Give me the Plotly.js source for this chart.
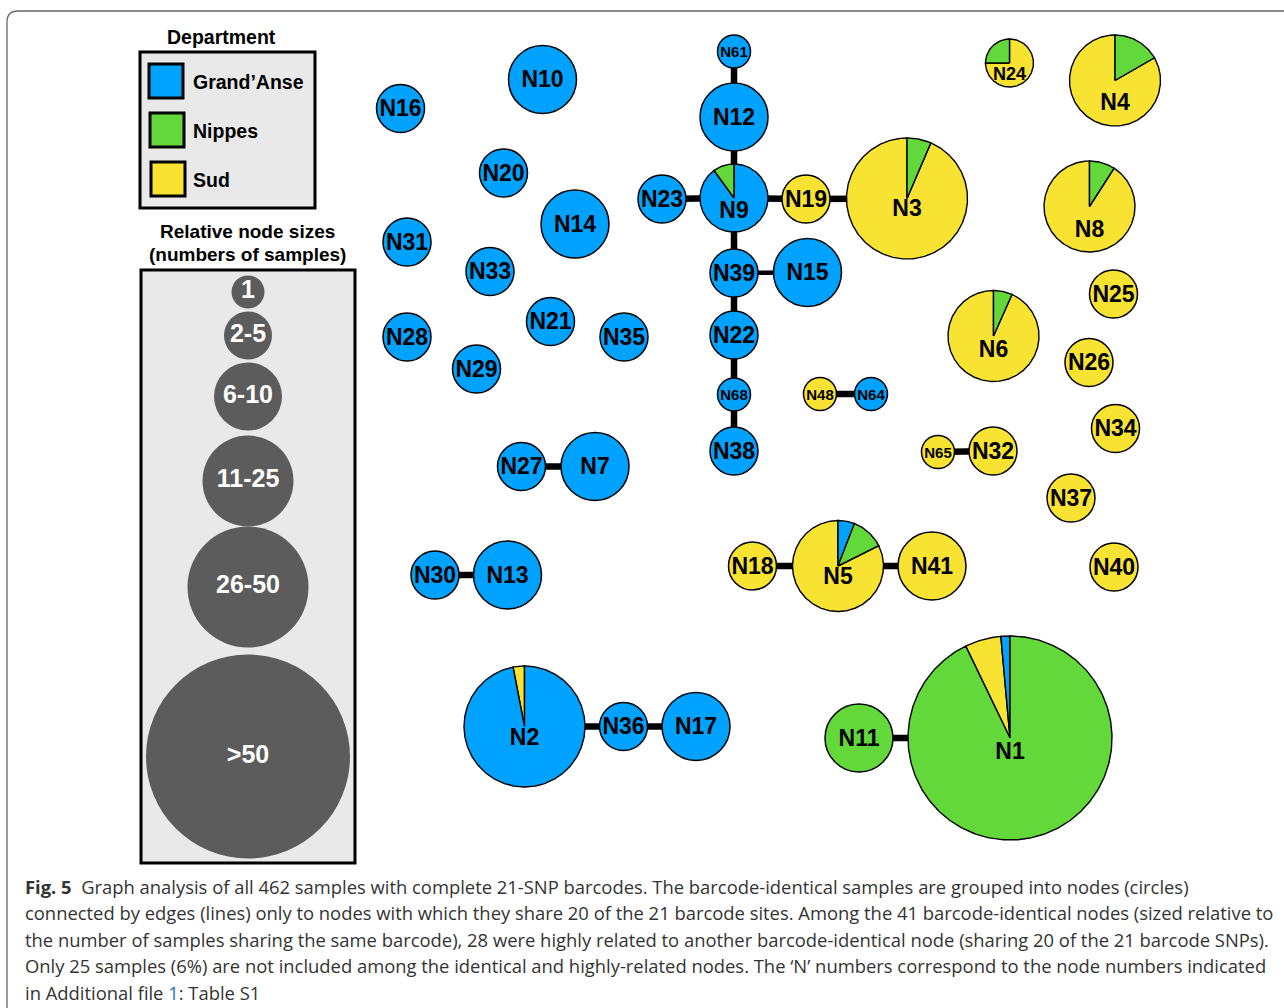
<!DOCTYPE html>
<html><head><meta charset="utf-8">
<script src="https://cdn.plot.ly/plotly-3.0.1.min.js"></script>
<style>html,body{margin:0;padding:0;background:#fff}</style>
</head><body><div id="chart" style="width:1284px;height:1008px"></div>
<script>
// ---------- DATA ----------
const nodeIds   = ['N1','N2','N3','N4','N5','N6','N7','N8','N9','N10','N11','N12','N13','N14','N15','N16','N17','N18','N19','N20','N21','N22','N23','N24','N25','N26','N27','N28','N29','N30','N31','N32','N33','N34','N35','N36','N37','N38','N39','N40','N41','N48','N61','N64','N65','N68'];
// samples per department in each node
const grandAnse = [1,32,0,0,1,0,10,0,9,9,0,8,8,7,7,5,6,0,0,5,4,4,4,0,0,0,3,3,3,3,3,0,3,0,3,3,0,2,2,0,0,0,1,1,0,1];
const nippes    = [65,0,2,3,2,1,0,1,1,0,9,0,0,0,0,0,0,0,0,0,0,0,0,1,0,0,0,0,0,0,0,0,0,0,0,0,0,0,0,0,0,0,0,0,0,0];
const sud       = [4,1,29,15,14,14,0,10,0,0,0,0,0,0,0,0,0,5,5,0,0,0,0,3,4,4,0,0,0,0,0,3,0,3,0,0,2,0,0,2,6,1,0,0,1,0];
// order of the pie slices, clockwise from 12 o'clock (G = Grand'Anse, N = Nippes, S = Sud)
const sliceOrder = ['NSG','GS','NS','NS','GNS','NS','G','NS','GN','G','N','G','G','G','G','G','G','S','S','G','G','G','G','SN','S','S','G','G','G','G','G','S','G','S','G','G','S','G','G','S','S','S','G','G','S','G'];
// edges: nodes sharing 20 of the 21 barcode sites
const edgeFrom = ['N61','N12','N23','N9','N19','N9','N39','N39','N22','N68','N48','N65','N18','N5','N27','N30','N2','N36','N11'];
const edgeTo   = ['N12','N9','N9','N19','N3','N39','N15','N22','N68','N38','N64','N32','N5','N41','N7','N13','N36','N17','N1'];
const deptNames = ['Grand’Anse','Nippes','Sud'];
const sizeClasses = ['1','2-5','6-10','11-25','26-50','>50'];
const sizeClassMax = [1,5,10,25,50,Infinity];

// ---------- LAYOUT (network placement, pixel space) ----------
const nodeX = [1010,524.5,907,1115,838,993.5,595,1089.5,734,542.5,859,734,507.5,575,807.5,400.5,696,752.5,806,503.5,550.5,734,662,1009.5,1113.5,1089,521.5,407,476.5,435,407,993,490,1115.5,624,623.5,1071,734,734,1114,932,820,734,871,938,734];
const nodeY = [738,726.5,198.5,80.5,566,336,466.5,206.5,198,79.5,738,117,575,224,272.5,108.5,726.5,566,199,173,321.5,335,199,63,294,362.5,466.5,337,369,575,242,451,271.5,428.5,337,726.5,498,451,273,567,566,394,51.5,394,452,394.5];
const labelShift = {N1:13,N2:10.5,N3:10,N4:22,N5:10,N6:13,N8:23,N9:12,N24:10};
const edgeWidthOf = {'N39-N15':4.5};

// ---------- STYLE ----------
const deptColor = {G:'#00a2ff', N:'#62d83a', S:'#f8e232'};
const classRadius = [16.5,24,34,45.5,60.5,102];
const legendCircleY = [292,335.5,396.5,481,587,756.5];
const FONT = '"Liberation Sans", Arial, Helvetica, sans-serif';

function sizeClass(n){ for(let i=0;i<sizeClassMax.length;i++){ if(n<=sizeClassMax[i]) return i; } return sizeClassMax.length-1; }
const idx = {}; nodeIds.forEach((id,i)=>idx[id]=i);
const counts = nodeIds.map((_,i)=>({G:grandAnse[i],N:nippes[i],S:sud[i]}));
const totals = counts.map(c=>c.G+c.N+c.S);
const radius = totals.map(t=>classRadius[sizeClass(t)]);
const isPie = sliceOrder.map(o=>o.length>1);

const traces = [];
// edges
const edgeGroups = {};
edgeFrom.forEach((a,k)=>{
  const b = edgeTo[k];
  const w = edgeWidthOf[a+'-'+b] || 6.5;
  if(!edgeGroups[w]) edgeGroups[w]={x:[],y:[]};
  edgeGroups[w].x.push(nodeX[idx[a]], nodeX[idx[b]], null);
  edgeGroups[w].y.push(nodeY[idx[a]], nodeY[idx[b]], null);
});
Object.keys(edgeGroups).forEach(w=>{
  traces.push({type:'scatter',mode:'lines',x:edgeGroups[w].x,y:edgeGroups[w].y,
    line:{color:'#000',width:+w},hoverinfo:'skip',showlegend:false});
});
// single-department nodes as circles
const sx=[],sy=[],ss=[],sc=[];
nodeIds.forEach((id,i)=>{ if(!isPie[i]){ sx.push(nodeX[i]); sy.push(nodeY[i]); ss.push(2*radius[i]); sc.push(deptColor[sliceOrder[i]]); }});
traces.push({type:'scatter',mode:'markers',x:sx,y:sy,marker:{size:ss,color:sc,line:{color:'#000',width:1.5},opacity:1},hoverinfo:'skip',showlegend:false});
// pie nodes as wedge polygons
const wedge = {G:{x:[],y:[]},N:{x:[],y:[]},S:{x:[],y:[]}};
nodeIds.forEach((id,i)=>{
  if(!isPie[i]) return;
  const cx=nodeX[i], cy=nodeY[i], r=radius[i], tot=totals[i];
  let a0=0;
  for(const d of sliceOrder[i]){
    const a1 = a0 + counts[i][d]/tot*2*Math.PI;
    const W = wedge[d];
    W.x.push(cx); W.y.push(cy);
    const steps = Math.max(2, Math.ceil((a1-a0)/(Math.PI/180)));
    for(let s=0;s<=steps;s++){ const a=a0+(a1-a0)*s/steps; W.x.push(cx+r*Math.sin(a)); W.y.push(cy-r*Math.cos(a)); }
    W.x.push(cx, null); W.y.push(cy, null);
    a0=a1;
  }
});
['S','G','N'].forEach(d=>{
  traces.push({type:'scatter',mode:'lines',x:wedge[d].x,y:wedge[d].y,fill:'toself',fillcolor:deptColor[d],
    line:{color:'#000',width:1.4},hoverinfo:'skip',showlegend:false,connectgaps:false});
});
// node labels
const lx=[],ly=[],lt=[],lf=[];
nodeIds.forEach((id,i)=>{
  lx.push(nodeX[i]); ly.push(nodeY[i]+2+(labelShift[id]||0)); lt.push(id);
  const c=sizeClass(totals[i]);
  lf.push(c===0?15:(isPie[i]&&c===1?18:23));
});
traces.push({type:'scatter',mode:'text',x:lx,y:ly,text:lt,textposition:'middle center',
  textfont:{family:FONT,size:lf,color:'#000',weight:700},hoverinfo:'skip',showlegend:false,cliponaxis:false});
// size legend circles
traces.push({type:'scatter',mode:'markers+text',x:sizeClasses.map(()=>248),y:legendCircleY,
  marker:{size:classRadius.map(r=>2*r),color:'#5c5c5c',opacity:1,line:{width:0}},
  text:sizeClasses,textposition:'middle center',textfont:{family:FONT,size:25,color:'#fff',weight:700},
  hoverinfo:'skip',showlegend:false});
// department legend squares
const legY=[81,130,179], legX=[166,167,168];
traces.push({type:'scatter',mode:'markers',x:legX,y:legY,
  marker:{symbol:'square',size:34,opacity:1,color:['G','N','S'].map(d=>deptColor[d]),line:{color:'#000',width:3}},
  hoverinfo:'skip',showlegend:false});

const annotations = [];
function ann(text,x,y,size,opts){ annotations.push(Object.assign({text:text,x:x,y:y,xref:'x',yref:'y',showarrow:false,
  font:{family:FONT,size:size,color:'#000',weight:700},xanchor:'center',yanchor:'middle'},opts||{})); }
ann('Department',221,37,19.5);
deptNames.forEach((n,k)=>ann(n,191,legY[k]+1,19.5,{xanchor:'left'}));
ann('Relative node sizes',247,231,19);
ann('(numbers of samples)',247,254.5,19);
const CAP='"Open Sans", sans-serif';
const capLines = [
  '<b>Fig. 5</b>  Graph analysis of all 462 samples with complete 21-SNP barcodes. The barcode-identical samples are grouped into nodes (circles)',
  'connected by edges (lines) only to nodes with which they share 20 of the 21 barcode sites. Among the 41 barcode-identical nodes (sized relative to',
  'the number of samples sharing the same barcode), 28 were highly related to another barcode-identical node (sharing 20 of the 21 barcode SNPs).',
  'Only 25 samples (6%) are not included among the identical and highly-related nodes. The ‘N’ numbers correspond to the node numbers indicated',
  'in Additional file <span style="color:#2a6fc0">1</span>: Table S1'];
capLines.forEach((t,k)=>annotations.push({text:t,x:23,y:886+k*26.5,xref:'x',yref:'y',showarrow:false,xanchor:'left',yanchor:'middle',
  font:{family:CAP,size:18.4,color:'#333'}}));

const shapes = [
  {type:'path',xref:'x',yref:'y',path:'M 1300 11 L 18 11 Q 7 11 7 22 L 7 1020',line:{color:'#666',width:1.3},layer:'below'},
  {type:'rect',xref:'x',yref:'y',x0:140,y0:52,x1:315,y1:208,fillcolor:'#e9e9e9',line:{color:'#000',width:3},layer:'below'},
  {type:'rect',xref:'x',yref:'y',x0:141,y0:270,x1:355,y1:863,fillcolor:'#e9e9e9',line:{color:'#000',width:3},layer:'below'}
];

const layout = {width:1284,height:1008,margin:{l:0,r:0,t:0,b:0,pad:0},paper_bgcolor:'#fff',plot_bgcolor:'#fff',
  xaxis:{range:[0,1284],visible:false,fixedrange:true},
  yaxis:{range:[1008,0],visible:false,fixedrange:true},
  showlegend:false,shapes:shapes,annotations:annotations,hovermode:false};
Plotly.newPlot('chart',traces,layout,{staticPlot:true,displayModeBar:false});
</script></body></html>
